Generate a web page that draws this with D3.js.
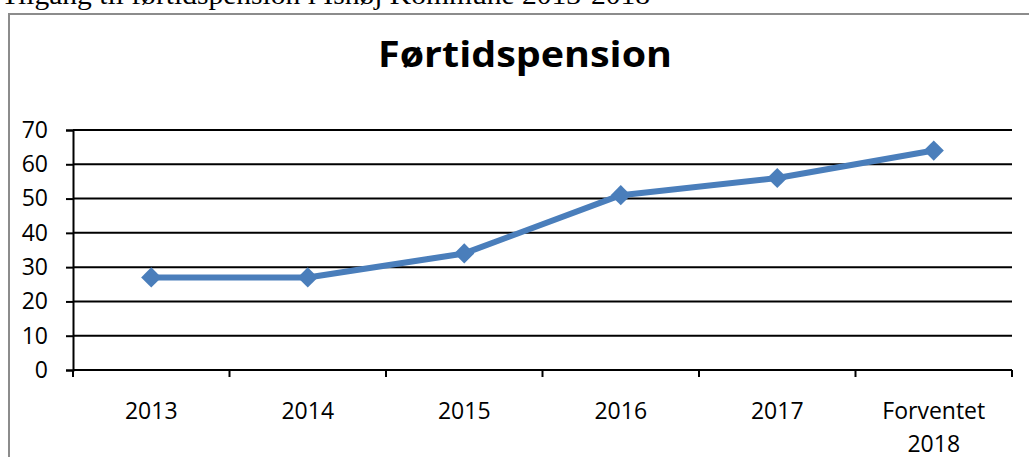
<!DOCTYPE html>
<html>
<head>
<meta charset="utf-8">
<script src="https://cdn.jsdelivr.net/npm/d3@7"></script>
<style>
  html, body { margin: 0; padding: 0; background: #fff; overflow: hidden; }
  svg { display: block; }
</style>
</head>
<body>
<div id="chart"></div>
<script>
// Førtidspension line chart
const categories = ['2013', '2014', '2015', '2016', '2017', 'Forventet\n2018'];
const values = [27, 27, 34, 51, 56, 64];
const yTicks = [0, 10, 20, 30, 40, 50, 60, 70];
const heading = 'Tilgang til førtidspension i Ishøj Kommune 2013-2018';
const title = 'Førtidspension';

const width = 1029, height = 457;
const margin = { left: 73, right: 17, top: 130, bottom: 87 };

const svg = d3.select('#chart')
    .append('svg')
    .attr('width', width)
    .attr('height', height);

// text above the chart frame (cut off at the top)
svg.append('text')
    .attr('x', 1)
    .attr('y', 4)
    .attr('font-family', '"Liberation Serif", "Times New Roman", serif')
    .attr('font-size', 27)
    .attr('textLength', 649)
    .attr('lengthAdjust', 'spacingAndGlyphs')
    .attr('fill', '#000')
    .text(heading);

// chart frame
svg.append('rect')
    .attr('x', 9)
    .attr('y', 14)
    .attr('width', 1040)
    .attr('height', 470)
    .attr('fill', 'none')
    .attr('stroke', '#8c8c8c')
    .attr('stroke-width', 2);

svg.append('text')
    .attr('x', 525)
    .attr('y', 67)
    .attr('text-anchor', 'middle')
    .attr('font-family', '"Open Sans", sans-serif')
    .attr('font-weight', 'bold')
    .attr('font-size', 36)
    .attr('textLength', 294)
    .attr('lengthAdjust', 'spacingAndGlyphs')
    .attr('fill', '#000')
    .text(title);

const x = d3.scaleBand()
    .domain(categories)
    .range([margin.left, width - margin.right]);

const y = d3.scaleLinear()
    .domain([0, 70])
    .range([height - margin.bottom, margin.top]);

// gridlines
svg.append('g')
    .selectAll('line')
    .data(yTicks)
    .join('line')
    .attr('x1', margin.left)
    .attr('x2', width - margin.right)
    .attr('y1', d => y(d))
    .attr('y2', d => y(d))
    .attr('stroke', '#000')
    .attr('stroke-width', 2);

// y axis
const yAxis = svg.append('g')
    .attr('transform', `translate(${margin.left},0)`)
    .call(d3.axisLeft(y).tickValues(yTicks).tickSize(7).tickPadding(18));
yAxis.select('.domain').attr('stroke', '#000').attr('stroke-width', 2);
yAxis.selectAll('.tick line').attr('stroke', '#000').attr('stroke-width', 2);
yAxis.selectAll('.tick text')
    .attr('font-family', '"Open Sans", sans-serif')
    .attr('font-size', 23)
    .attr('fill', '#000');

// x axis: ticks at category boundaries
const boundaries = categories.map(c => x(c)).concat([x.range()[1]]);
const xAxis = svg.append('g')
    .attr('transform', `translate(0,${y(0)})`);
xAxis.append('line')
    .attr('x1', margin.left)
    .attr('x2', width - margin.right)
    .attr('stroke', '#000')
    .attr('stroke-width', 2);
xAxis.selectAll('.bound')
    .data(boundaries)
    .join('line')
    .attr('class', 'bound')
    .attr('x1', d => d)
    .attr('x2', d => d)
    .attr('y1', 0)
    .attr('y2', 7)
    .attr('stroke', '#000')
    .attr('stroke-width', 2);

const labels = xAxis.selectAll('.lbl')
    .data(categories)
    .join('text')
    .attr('class', 'lbl')
    .attr('text-anchor', 'middle')
    .attr('font-family', '"Open Sans", sans-serif')
    .attr('font-size', 23)
    .attr('fill', '#000');
labels.each(function(d) {
    const parts = d.split('\n');
    d3.select(this).selectAll('tspan')
        .data(parts)
        .join('tspan')
        .attr('x', x(d) + x.bandwidth() / 2)
        .attr('y', (p, i) => 49 + i * 33)
        .text(p => p);
});

// series line
const line = d3.line()
    .x((d, i) => x(categories[i]) + x.bandwidth() / 2)
    .y(d => y(d));

svg.append('path')
    .datum(values)
    .attr('d', line)
    .attr('fill', 'none')
    .attr('stroke', '#4a7ebb')
    .attr('stroke-width', 6)
    .attr('stroke-linejoin', 'round');

svg.append('g')
    .selectAll('path')
    .data(values)
    .join('path')
    .attr('d', d3.symbol(d3.symbolDiamond2, 260))
    .attr('transform', (d, i) => `translate(${x(categories[i]) + x.bandwidth() / 2},${y(d)})`)
    .attr('fill', '#4a7ebb');
</script>
</body>
</html>
